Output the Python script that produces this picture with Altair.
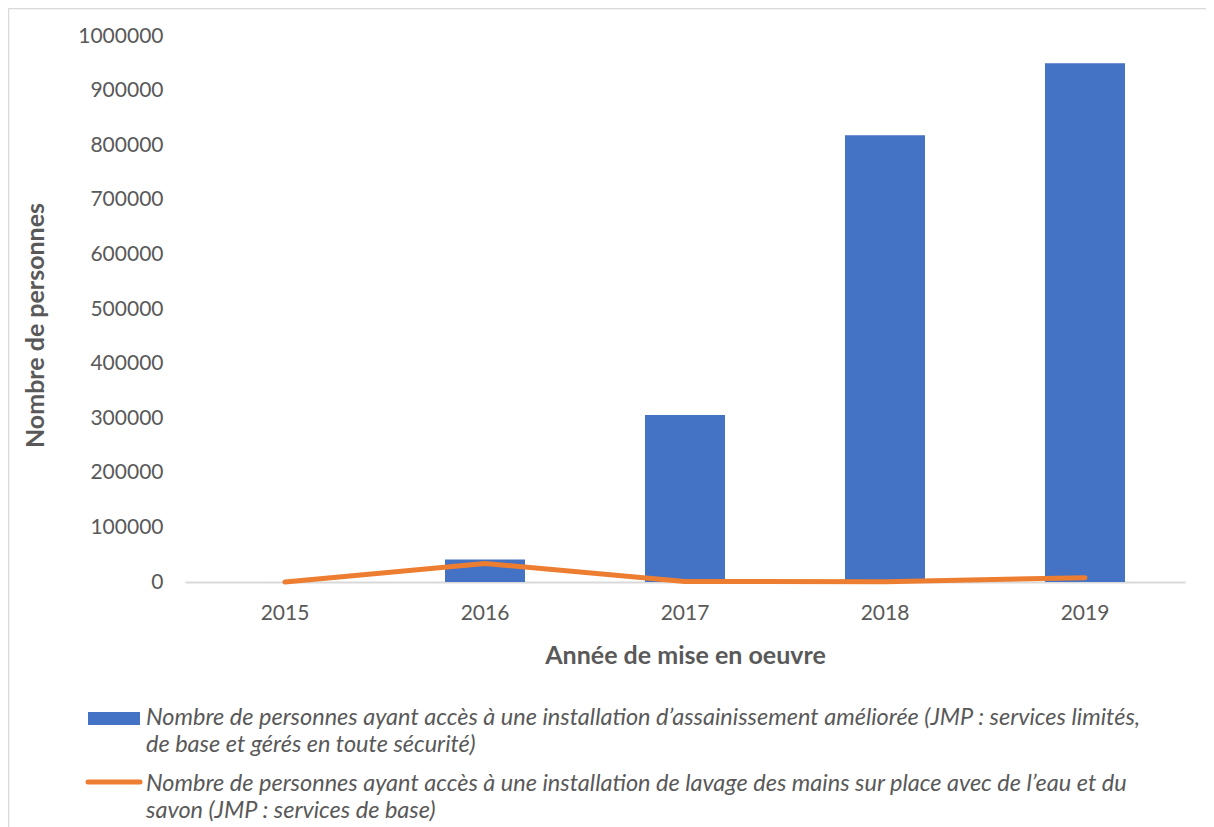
import altair as alt
import pandas as pd

years = ["2015", "2016", "2017", "2018", "2019"]
sanitation = [None, 41000, 306000, 818000, 950000]
handwashing = [0, 34000, 1000, 500, 8000]
bar_label = "Nombre de personnes ayant accès à une installation d’assainissement améliorée (JMP : services limités, de base et gérés en toute sécurité)"
line_label = "Nombre de personnes ayant accès à une installation de lavage des mains sur place avec de l’eau et du savon (JMP : services de base)"
y_ticks = [0, 100000, 200000, 300000, 400000, 500000, 600000, 700000, 800000, 900000, 1000000]

df = pd.DataFrame({"year": years, "sanitation": sanitation, "handwashing": handwashing})

W, H = 1000, 546
GREY = "#595959"
FONT = "Lato"

def split_label(s, n):
    words = s.split(" ")
    return [" ".join(words[:n]), " ".join(words[n:])]

bar_lines = split_label(bar_label, 14)
line_lines = split_label(line_label, 19)

xscale = alt.Scale(paddingInner=0.6, paddingOuter=0.3)
yscale = alt.Scale(domain=[0, 1000000], nice=False)

bars = alt.Chart(df).mark_bar(color="#4472C4").encode(
    x=alt.X("year:O", scale=xscale, sort=years, axis=alt.Axis(
        title="Année de mise en oeuvre", labelAngle=0, ticks=False, domainColor="#d9d9d9",
        domainWidth=2, labelPadding=20, titlePadding=20, labelFontSize=21, titleFontSize=25,
        labelColor=GREY, titleColor=GREY, titleFontWeight="bold", labelFont=FONT, titleFont=FONT)),
    y=alt.Y("sanitation:Q", scale=yscale, axis=alt.Axis(
        title="Nombre de personnes", values=y_ticks, format="d", grid=False, domain=False,
        ticks=False, labelPadding=22, labelFontSize=21, titleFontSize=25, labelColor=GREY,
        titleColor=GREY, titleFontWeight="bold", labelFont=FONT, titleFont=FONT,
        titleX=-150, titleY=289, titleAngle=-90, titleAlign="center", titleBaseline="middle")),
)

line = alt.Chart(df).mark_line(color="#ED7D31", strokeWidth=5, strokeCap="round", strokeJoin="round").encode(
    x=alt.X("year:O", sort=years, scale=xscale),
    y=alt.Y("handwashing:Q", scale=yscale),
)

legend_df = pd.DataFrame({"a": [0]})
base = alt.Chart(legend_df)
leg_rect = base.mark_rect(color="#4472C4").encode(
    x=alt.value(-97), x2=alt.value(-45), y=alt.value(676), y2=alt.value(689))
leg_line = base.mark_rule(color="#ED7D31", strokeWidth=5, strokeCap="round").encode(
    x=alt.value(-97), x2=alt.value(-45), y=alt.value(746))

def txt(s, y):
    return base.mark_text(align="left", baseline="middle", fontStyle="italic", fontSize=23.5,
                          font=FONT, color=GREY).encode(
        x=alt.value(-39), y=alt.value(y), text=alt.value(s))

border_top = base.mark_rule(color="#d9d9d9", strokeWidth=1.5).encode(
    x=alt.value(-176.5), x2=alt.value(1100), y=alt.value(-27.5))
border_left = base.mark_rule(color="#d9d9d9", strokeWidth=1.5).encode(
    x=alt.value(-176.5), y=alt.value(-27.5), y2=alt.value(900))

chart = alt.layer(
    border_top, border_left, bars, line, leg_rect, leg_line,
    txt(bar_lines[0], 682), txt(bar_lines[1], 709),
    txt(line_lines[0], 748), txt(line_lines[1], 775),
).properties(
    width=W, height=H,
    autosize=alt.AutoSizeParams(type="none"),
    padding={"left": 177, "top": 28, "right": 21, "bottom": 247},
).configure_view(stroke=None)

chart.save("out.html", embed_options={"renderer": "svg", "actions": False})
